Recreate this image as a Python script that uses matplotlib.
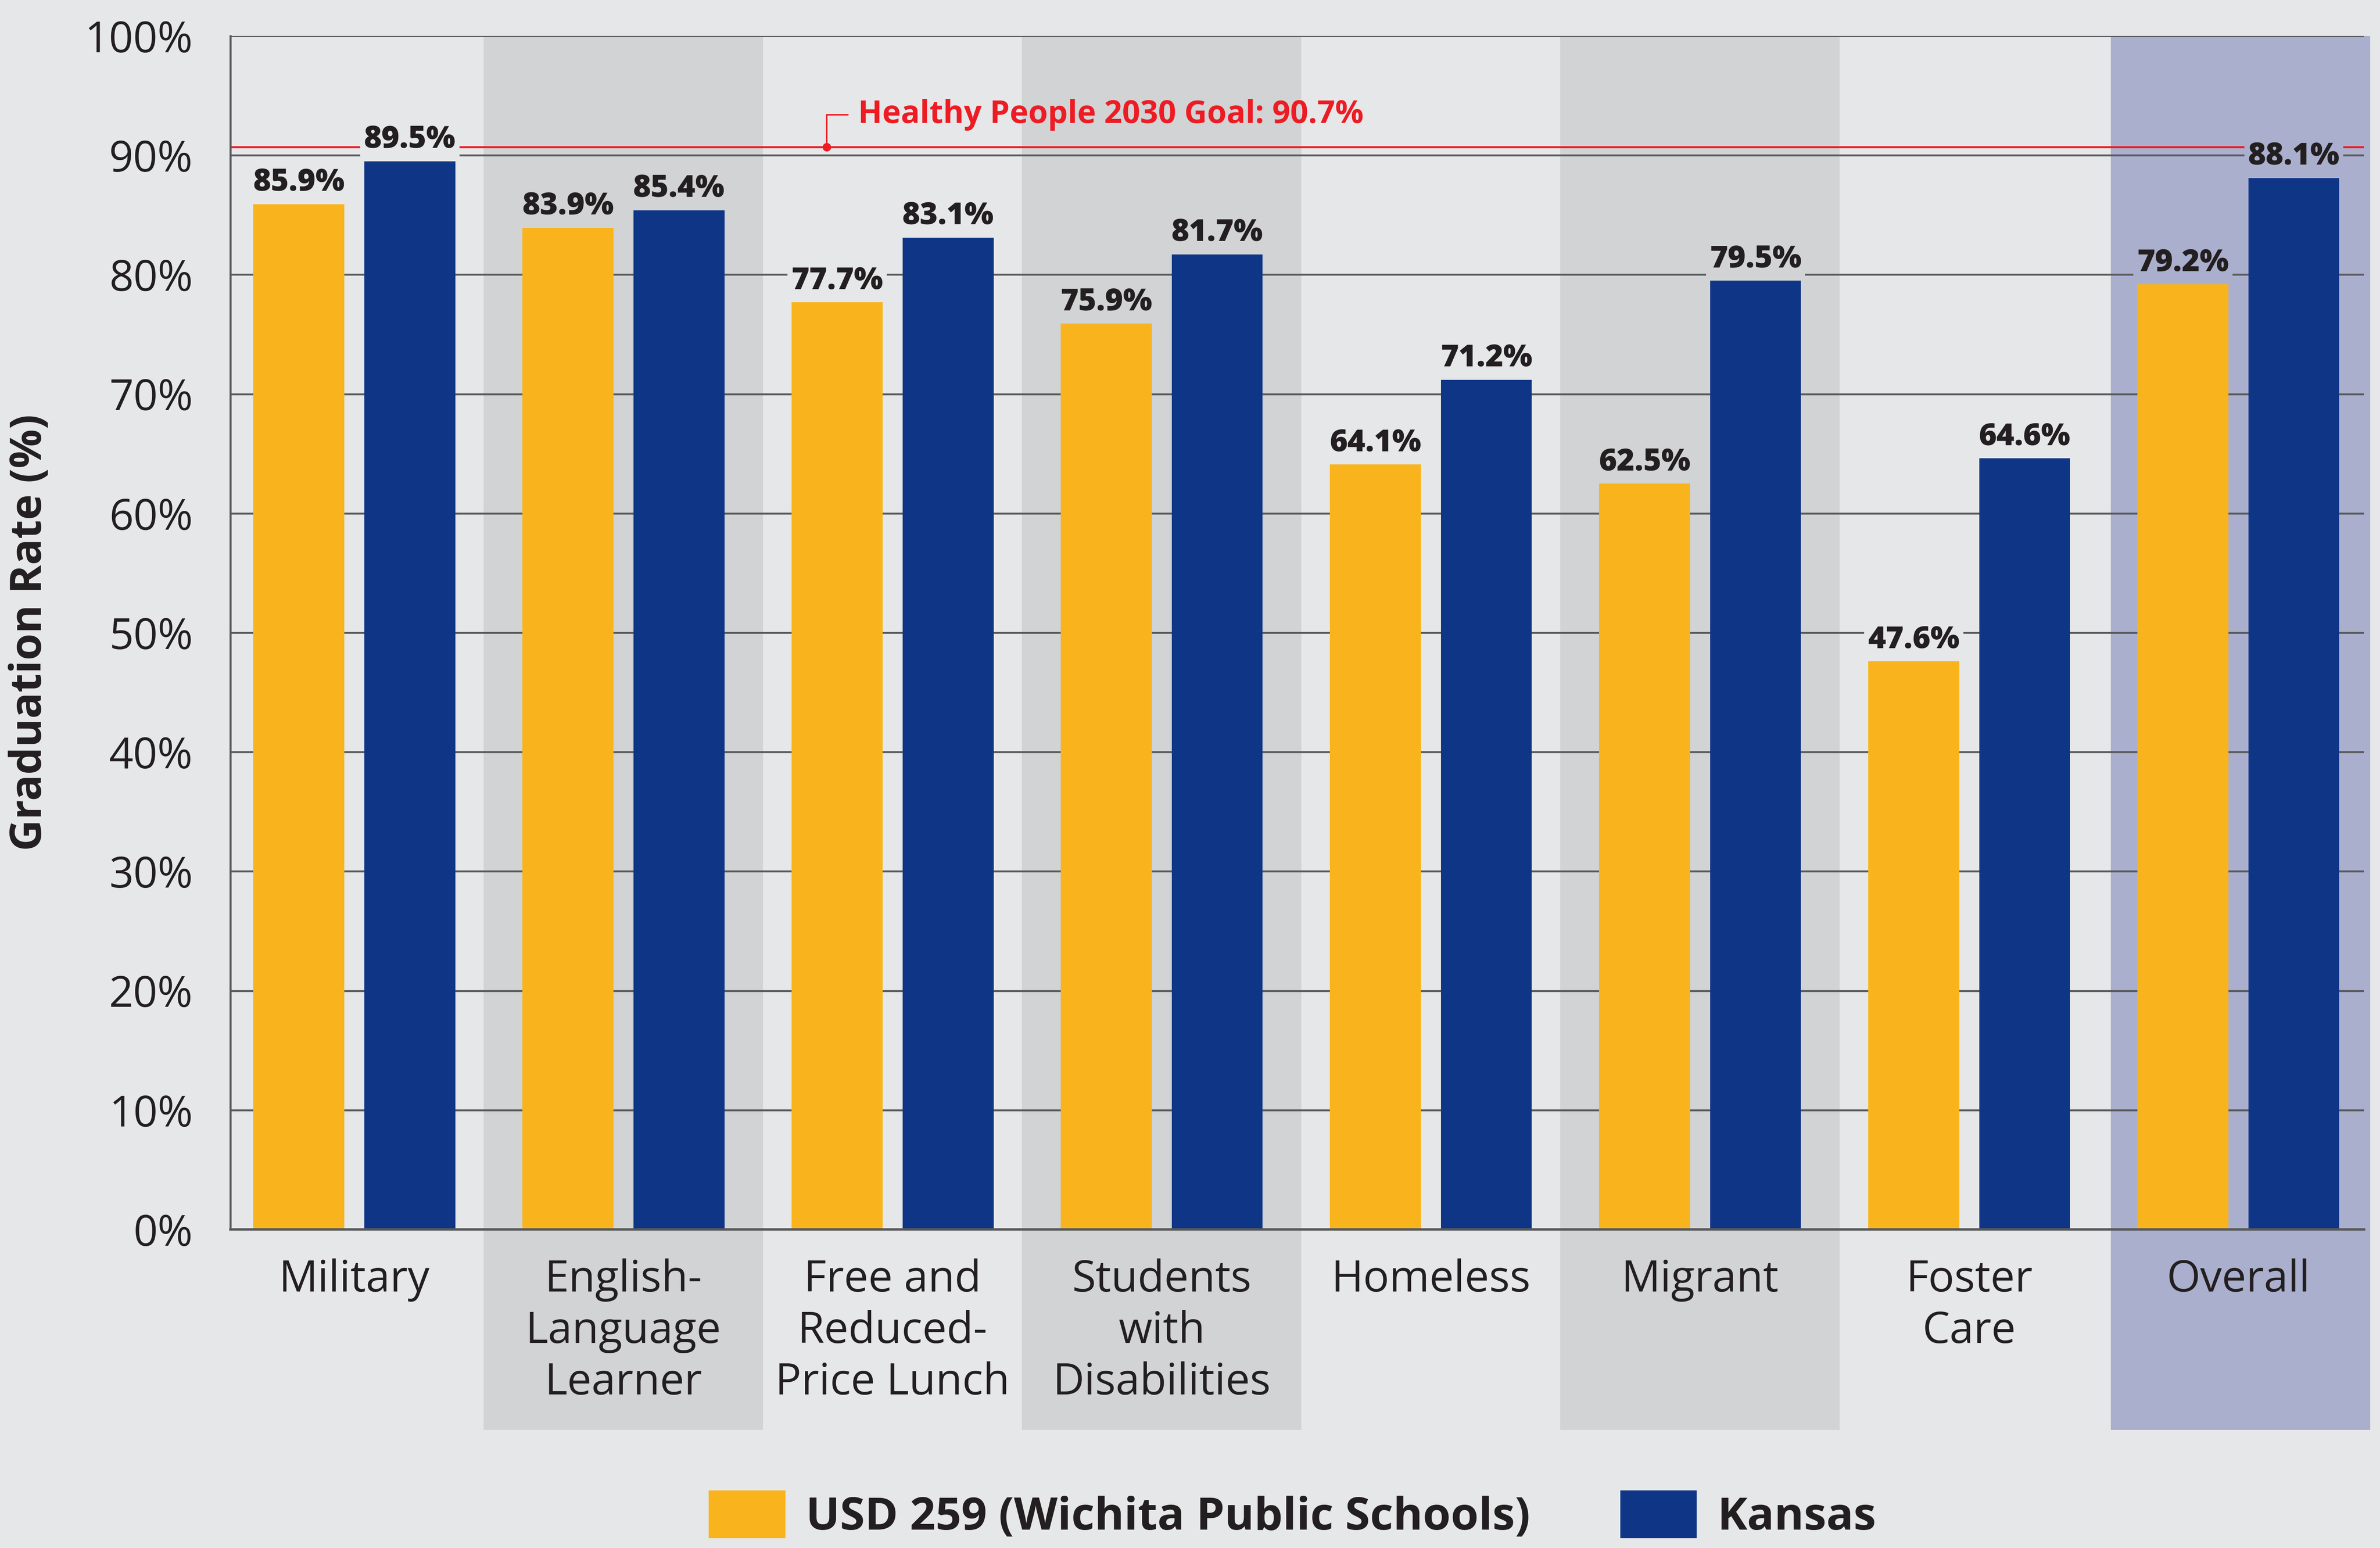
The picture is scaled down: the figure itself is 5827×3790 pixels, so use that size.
import matplotlib
matplotlib.use("Agg")
import matplotlib.pyplot as plt
from matplotlib.patches import Patch
import numpy as np

# ---------------------------------------------------------------------------
# Data
# ---------------------------------------------------------------------------
categories = [
    "Military",
    "English-\nLanguage\nLearner",
    "Free and\nReduced-\nPrice Lunch",
    "Students\nwith\nDisabilities",
    "Homeless",
    "Migrant",
    "Foster\nCare",
    "Overall",
]
usd259 = [85.9, 83.9, 77.7, 75.9, 64.1, 62.5, 47.6, 79.2]
kansas = [89.5, 85.4, 83.1, 81.7, 71.2, 79.5, 64.6, 88.1]
series_names = ["USD 259 (Wichita Public Schools)", "Kansas"]
goal = 90.7
goal_label = "Healthy People 2030 Goal: 90.7%"
yticks = list(range(0, 101, 10))

# ---------------------------------------------------------------------------
# Style
# ---------------------------------------------------------------------------
BG = "#E6E7E8"
BAND = "#D1D3D4"
BAND_OVERALL = "#AAAFCE"
ORANGE = "#F9B41D"
BLUE = "#0F3686"
GRID = "#58595B"
RED = "#ED1C24"
TEXT = "#231F20"

plt.rcParams["font.family"] = ["Open Sans", "DejaVu Sans"]

W, H, DPI = 5827, 3790, 300
fig = plt.figure(figsize=(W / DPI, H / DPI), dpi=DPI, facecolor=BG)
ax = fig.add_axes([564 / W, 1 - 3010 / H, (5788 - 564) / W, (3010 - 88) / H])
ax.set_facecolor(BG)

x = np.arange(len(categories))
bar_w = 0.338
off = 0.206

# alternating shaded bands (extend below the axes under the labels)
band_colors = []
for i in x:
    if i == len(categories) - 1:
        c = BAND_OVERALL
        ax.axvspan(i - 0.474, i + 0.49, ymin=-0.168, ymax=1, color=c, lw=0,
                   zorder=0, clip_on=False)
    elif i % 2 == 1:
        c = BAND
        ax.axvspan(i - 0.519, i + 0.519, ymin=-0.168, ymax=1, color=c, lw=0,
                   zorder=0, clip_on=False)
    else:
        c = BG
    band_colors.append(c)

# gridlines
for t in yticks:
    ax.axhline(t, color=GRID, lw=1.1, zorder=1)

# goal line
ax.axhline(goal, color=RED, lw=1.2, zorder=1.5)
ax.plot([1.755], [goal], "o", color=RED, ms=4, zorder=1.6)
ax.annotate(
    goal_label,
    xy=(1.755, goal),
    xytext=(1.872, goal + 2.7),
    fontsize=18.5,
    fontweight="bold",
    color=RED,
    va="center",
    ha="left",
    arrowprops=dict(arrowstyle="-", color=RED, lw=0.9, shrinkA=4, shrinkB=0,
                    relpos=(0, 0.5),
                    connectionstyle="angle,angleA=0,angleB=90,rad=0"),
    zorder=3,
)

# bars
b1 = ax.bar(x - off, usd259, bar_w, color=ORANGE, zorder=2, lw=0)
b2 = ax.bar(x + off, kansas, bar_w, color=BLUE, zorder=2, lw=0)

for bars, vals in ((b1, usd259), (b2, kansas)):
    for i, (rect, v) in enumerate(zip(bars, vals)):
        ax.annotate(
            f"{v:.1f}%",
            xy=(rect.get_x() + rect.get_width() / 2, v),
            xytext=(0, 3.5),
            textcoords="offset points",
            ha="center",
            va="bottom",
            fontsize=18,
            fontweight="heavy",
            color=TEXT,
            bbox=dict(boxstyle="square,pad=0.12", fc=band_colors[i], ec="none"),
            zorder=4,
        )

ax.set_xlim(-0.4605, 7.467)
ax.set_ylim(0, 100)
ax.set_yticks(yticks)
ax.set_yticklabels([f"{t}%" for t in yticks], fontsize=25, color=TEXT)
ax.set_xticks(x)
ax.set_xticklabels(categories, fontsize=25.5, color=TEXT, linespacing=1.25)
ax.tick_params(axis="both", length=0)
ax.tick_params(axis="y", pad=22)
ax.tick_params(axis="x", pad=17)

for side in ("top", "right"):
    ax.spines[side].set_visible(False)
ax.spines["left"].set_color(GRID)
ax.spines["left"].set_linewidth(1.2)
ax.spines["bottom"].set_color(GRID)
ax.spines["bottom"].set_linewidth(1.4)
ax.spines["bottom"].set_zorder(3)

ax.set_ylabel("Graduation Rate (%)", fontsize=25.5, fontweight="bold", color=TEXT)
ax.yaxis.set_label_coords(-0.0838, 0.5)

handles = [Patch(color=ORANGE, lw=0), Patch(color=BLUE, lw=0)]
fig.legend(
    handles,
    series_names,
    loc="center",
    bbox_to_anchor=(0.543, 1 - 3710 / H),
    ncol=2,
    frameon=False,
    prop={"size": 26.5, "weight": "bold"},
    handlelength=1.7,
    handleheight=1.25,
    handletextpad=0.45,
    columnspacing=2.0,
    labelcolor=TEXT,
)

fig.savefig("out.png", dpi=DPI, facecolor=BG)
